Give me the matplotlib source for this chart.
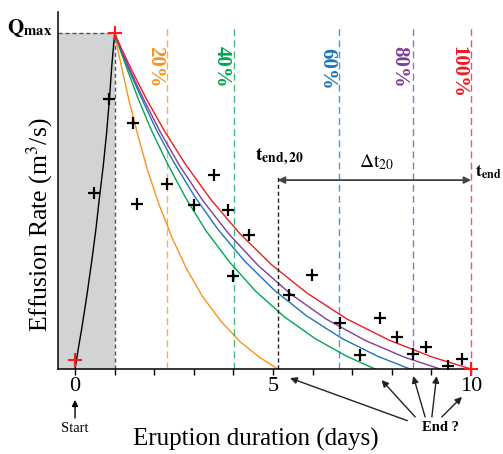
import matplotlib
matplotlib.use('Agg')
import matplotlib.pyplot as plt

plt.rcParams['font.family'] = ['Liberation Serif', 'DejaVu Serif']
plt.rcParams['mathtext.fontset'] = 'stix'

# rising limb (days, Q/Qmax)
rise_t = [0.0, 0.07, 0.17, 0.30, 0.42, 0.53, 0.61, 0.715, 0.80, 0.87, 0.93, 1.0]
rise_q = [0.0, 0.052, 0.121, 0.22, 0.32, 0.419, 0.504, 0.608, 0.707, 0.807, 0.906, 1.0]

# waning curves
t20 = [1.0, 1.08, 1.21, 1.37, 1.58, 1.82, 2.11, 2.44, 2.81, 3.22, 3.68, 4.17, 4.67, 5.12]
q20 = [1.0, 0.951, 0.882, 0.797, 0.700, 0.597, 0.494, 0.394, 0.300, 0.216, 0.143, 0.081, 0.034, 0.0]
t40 = [1.0, 1.13, 1.33, 1.59, 1.92, 2.32, 2.78, 3.30, 3.90, 4.55, 5.28, 6.07, 6.86, 7.58]
q40 = [1.0, 0.954, 0.889, 0.807, 0.714, 0.615, 0.513, 0.413, 0.319, 0.233, 0.156, 0.090, 0.038, 0.0]
t60 = [1.0, 1.15, 1.37, 1.67, 2.04, 2.49, 3.01, 3.61, 4.28, 5.03, 5.85, 6.74, 7.64, 8.46]
q60 = [1.0, 0.954, 0.889, 0.809, 0.716, 0.617, 0.516, 0.416, 0.322, 0.235, 0.158, 0.091, 0.038, 0.0]
t80 = [1.0, 1.16, 1.41, 1.74, 2.15, 2.64, 3.22, 3.88, 4.62, 5.44, 6.34, 7.33, 8.32, 9.22]
q80 = [1.0, 0.953, 0.885, 0.802, 0.707, 0.606, 0.503, 0.403, 0.309, 0.224, 0.149, 0.085, 0.035, 0.0]
t100 = [1.0, 1.18, 1.45, 1.81, 2.26, 2.80, 3.43, 4.15, 4.96, 5.86, 6.85, 7.93, 9.01, 10.0]
q100 = [1.0, 0.953, 0.886, 0.803, 0.709, 0.608, 0.505, 0.405, 0.311, 0.226, 0.150, 0.086, 0.036, 0.0]

# observations
obs_t = [0.49, 0.87, 1.46, 1.57, 2.32, 3.01, 3.51, 3.86, 4.39, 4.00,
         5.41, 5.99, 6.68, 7.71, 7.20, 8.14, 8.54, 8.86, 9.43, 9.76]
obs_q = [0.524, 0.806, 0.734, 0.492, 0.551, 0.490, 0.579, 0.473, 0.398, 0.278,
         0.220, 0.281, 0.137, 0.153, 0.043, 0.096, 0.046, 0.066, 0.010, 0.029]

key_t = [0.0, 1.0, 10.0]
key_q = [0.027, 1.0, 0.0]

pct_labels = ['20%', '40%', '60%', '80%', '100%']
pct_t = [2.32, 4.01, 6.67, 8.54, 10.0]
label_t = [2.02, 3.70, 6.36, 8.19, 9.68]
label_q = [0.90, 0.90, 0.895, 0.90, 0.885]
t_end20 = 5.12
t_end = 10.0

colors = ['#f7941d', '#00a651', '#1c75bc', '#7f3f98', '#ed1c24']
curves = [(t20, q20), (t40, q40), (t60, q60), (t80, q80), (t100, q100)]

fig = plt.figure(figsize=(5.03, 4.54), dpi=100)
ax = fig.add_axes([58/503, 85/454, 419/503, 357/454])
x0, x1 = -0.43, 10.15
ax.set_xlim(x0, x1)
ax.set_ylim(0, 1.064)

# grey box up to the peak
ax.fill_between([x0, 1.0], 0, 1.0, color='#d1d3d4', lw=0, zorder=0)
ax.plot([1.0, 1.0], [0, 1.0], color='#555555', lw=1, dashes=[3, 2])
ax.plot([x0, 1.0], [1.0, 1.0], color='#555555', lw=1, dashes=[3, 2])

for (tt, qq), c, pt, lab, lt, lq in zip(curves, colors, pct_t, pct_labels, label_t, label_q):
    ax.plot([pt, pt], [0, 1.025], color=c, lw=1, dashes=[5, 3], alpha=0.75)
    ax.plot(tt, qq, color=c, lw=1)
    ax.text(lt, lq, lab, color=c, fontsize=15, fontweight='bold', rotation=270,
            ha='center', va='center')

ax.plot(rise_t, rise_q, color='black', lw=1)
ax.plot(obs_t, obs_q, ls='none', marker='+', color='black', ms=8, mew=1.6)
ax.plot(key_t, key_q, ls='none', marker='+', color='#ff1a1a', ms=10, mew=1.5,
        clip_on=False, zorder=5)

# t_end,20 marker and duration arrow
ax.plot([t_end20, t_end20], [0, 0.575], color='#222222', lw=1, dashes=[3, 2])
ax.annotate('', xy=(t_end, 0.563), xytext=(t_end20, 0.563),
            arrowprops=dict(arrowstyle='<|-|>', color='#444444', lw=1.3,
                            mutation_scale=10, shrinkA=0, shrinkB=0))
ax.text(4.55, 0.62, r'$\mathbf{t}_{\mathbf{end,20}}$', fontsize=14, ha='left', va='baseline')
ax.text(7.61, 0.60, r'$\Delta\mathrm{t}_{20}$', fontsize=14, ha='center', va='baseline')
ax.text(10.1, 0.573, r'$\mathbf{t}_{\mathbf{end}}$', fontsize=12.5, ha='left', va='baseline',
        clip_on=False)
ax.text(-0.58, 1.0, r'$\mathbf{Q}_{\mathbf{max}}$', fontsize=15, ha='right', va='baseline',
        clip_on=False)

# start / end annotations below the axis
ax.annotate('', xy=(0, -0.092), xytext=(0, -0.146), annotation_clip=False,
            arrowprops=dict(arrowstyle='-|>', color='black', lw=1, mutation_scale=9,
                            shrinkA=0, shrinkB=0))
ax.text(0, -0.178, 'Start', fontsize=10.5, ha='center', va='center', clip_on=False)
end_heads = [(5.43, -0.027), (7.74, -0.033), (8.54, -0.021), (9.13, -0.021), (9.77, -0.083)]
end_tails = [(8.39, -0.154), (8.59, -0.143), (8.84, -0.143), (9.01, -0.143), (9.26, -0.143)]
for h, tl in zip(end_heads, end_tails):
    ax.annotate('', xy=h, xytext=tl, annotation_clip=False,
                arrowprops=dict(arrowstyle='-|>', color='#222222', lw=1, mutation_scale=10,
                                shrinkA=0, shrinkB=0))
ax.text(9.22, -0.175, 'End ?', fontsize=10.5, fontweight='bold', ha='center', va='center',
        clip_on=False)

for s in ['top', 'right']:
    ax.spines[s].set_visible(False)
ax.spines['left'].set_linewidth(1.1)
ax.spines['bottom'].set_linewidth(1.1)
ax.set_yticks([])
ax.set_xticks([0, 5, 10])
ax.set_xticks(range(0, 11), minor=True)
ax.tick_params(axis='x', which='both', length=4, width=1, direction='out', labelsize=16, pad=2)

ax.set_ylabel('Effusion Rate (m$^3$/s)', fontsize=18.5)
ax.yaxis.set_label_coords(-0.043, 0.403)
ax.yaxis.label.set_va('center')
ax.set_xlabel('Eruption duration (days)', fontsize=18)
ax.xaxis.set_label_coords(0.473, -0.165)
ax.xaxis.label.set_va('top')

fig.savefig('out.png', dpi=100)
